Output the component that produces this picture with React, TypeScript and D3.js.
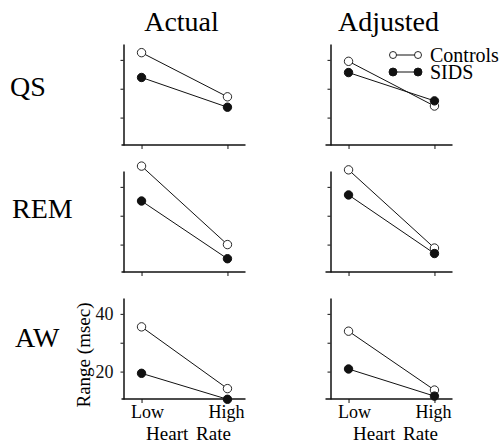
import React, { useRef, useEffect } from "react"
import * as d3 from "d3"

const rows = ["QS", "REM", "AW"]
const columns = ["Actual", "Adjusted"]
const levels = ["Low", "High"]
const yTicks = [20, 30, 40]
const labelledTicks = [20, 40]

// range (msec) at [Low, High] heart rate, rows x columns
const controls = [
  [[42.5, 27.2], [39.5, 24.0]],
  [[47.2, 20.0], [45.9, 18.8]],
  [[35.5, 14.1], [34.0, 13.6]],
]
const sids = [
  [[33.9, 23.6], [35.6, 25.8]],
  [[35.1, 15.1], [37.2, 16.9]],
  [[19.4, 10.4], [20.9, 11.5]],
]
const seriesNames = ["Controls", "SIDS"]

const width = 501
const height = 444
const colLeft = [123.5, 330.5]
const rowTop = [44, 171, 298]
const panelWidth = 122
const panelHeight = 101
const serif = "'Liberation Serif', 'Times New Roman', serif"

function App() {
  const ref = useRef<SVGSVGElement>(null)

  useEffect(() => {
    const svg = d3.select(ref.current)
    svg.selectAll("*").remove()

    const x = d3.scalePoint().domain(levels).range([0, panelWidth]).padding(0.21)
    const y = d3.scaleLinear().domain([10.5, 45.5]).range([panelHeight, 0])
    const line = d3
      .line<number>()
      .x((d, i) => x(levels[i]) as number)
      .y(d => y(d))

    // column titles
    columns.forEach((c, ci) => {
      svg
        .append("text")
        .attr("x", colLeft[ci] + panelWidth / 2 - 3)
        .attr("y", 31)
        .attr("text-anchor", "middle")
        .style("font-family", serif)
        .style("font-size", "28px")
        .text(c)
    })

    // row labels
    const rowLabelX = [10, 12, 15]
    const rowLabelY = [96, 218, 347]
    rows.forEach((r, ri) => {
      svg
        .append("text")
        .attr("x", rowLabelX[ri])
        .attr("y", rowLabelY[ri])
        .style("font-family", serif)
        .style("font-size", "28px")
        .text(r)
    })

    rows.forEach((r, ri) => {
      columns.forEach((c, ci) => {
        const g = svg
          .append("g")
          .attr("transform", `translate(${colLeft[ci]},${rowTop[ri]})`)
        const showLabels = ri === rows.length - 1 && ci === 0

        const yAxis = g
          .append("g")
          .call(
            d3
              .axisLeft(y)
              .tickValues(yTicks)
              .tickSize(3)
              .tickSizeOuter(0)
              .tickPadding(7)
              .tickFormat(d =>
                showLabels && labelledTicks.includes(+d) ? String(d) : ""
              )
          )
        yAxis.select(".domain").attr("stroke", "#111").attr("stroke-width", 1.5)
        yAxis.selectAll("line").attr("stroke", "#111")
        yAxis
          .selectAll("text")
          .style("font-family", serif)
          .style("font-size", "18px")
          .attr("fill", "#111")

        const xAxis = g
          .append("g")
          .attr("transform", `translate(0,${panelHeight})`)
          .call(d3.axisBottom(x).tickSize(4).tickSizeOuter(0).tickFormat(() => ""))
        xAxis
          .select(".domain")
          .attr("stroke", "#111")
          .attr("stroke-width", 1.5)
          .attr("d", `M${ci === 0 ? -2 : -5},0H${panelWidth}`)
        xAxis.selectAll("line").attr("stroke", "#111")

        if (ri === rows.length - 1) {
          const offs = [6, -1]
          levels.forEach((l, li) => {
            g.append("text")
              .attr("x", (x(l) as number) + offs[li])
              .attr("y", panelHeight + 19)
              .attr("text-anchor", "middle")
              .style("font-family", serif)
              .style("font-size", "18px")
              .text(l)
          })
          g.append("text")
            .attr("x", panelWidth / 2 + 4)
            .attr("y", panelHeight + 41)
            .attr("text-anchor", "middle")
            .style("font-family", serif)
            .style("font-size", "19px")
            .style("word-spacing", "3px")
            .text("Heart Rate")
        }

        const sets = [controls[ri][ci], sids[ri][ci]]
        sets.forEach((vals, si) => {
          g.append("path")
            .attr("d", line(vals))
            .attr("fill", "none")
            .attr("stroke", "#111")
            .attr("stroke-width", 1)
        })
        sets.forEach((vals, si) => {
          g.selectAll(null)
            .data(vals)
            .enter()
            .append("circle")
            .attr("cx", (d, i) => x(levels[i]) as number)
            .attr("cy", d => y(d))
            .attr("r", 4.2)
            .attr("fill", si === 0 ? "#fff" : "#111")
            .attr("stroke", "#111")
            .attr("stroke-width", si === 0 ? 0.9 : 1)
        })
      })
    })

    // y axis title
    svg
      .append("text")
      .attr("transform", `translate(90,${rowTop[2] + 57}) rotate(-90)`)
      .attr("text-anchor", "middle")
      .style("font-family", serif)
      .style("font-size", "19px")
      .text("Range (msec)")

    // legend
    const legend = svg.append("g").attr("transform", "translate(393,55)")
    seriesNames.forEach((s, si) => {
      const lg = legend.append("g").attr("transform", `translate(0,${si * 17})`)
      lg.append("line")
        .attr("x1", 0)
        .attr("x2", 25)
        .attr("stroke", "#111")
        .attr("stroke-width", 1)
      ;[0, 25].forEach(cx => {
        lg.append("circle")
          .attr("cx", cx)
          .attr("r", si === 0 ? 3.5 : 4)
          .attr("fill", si === 0 ? "#fff" : "#111")
          .attr("stroke", "#111")
          .attr("stroke-width", 0.9)
      })
      lg.append("text")
        .attr("x", 37)
        .attr("y", 7)
        .style("font-family", serif)
        .style("font-size", "20px")
        .text(s)
    })
  }, [])

  return (
    <svg
      ref={ref}
      width={width}
      height={height}
      style={{ position: "absolute", left: 0, top: 0, background: "#fff" }}
    />
  )
}

export default App
